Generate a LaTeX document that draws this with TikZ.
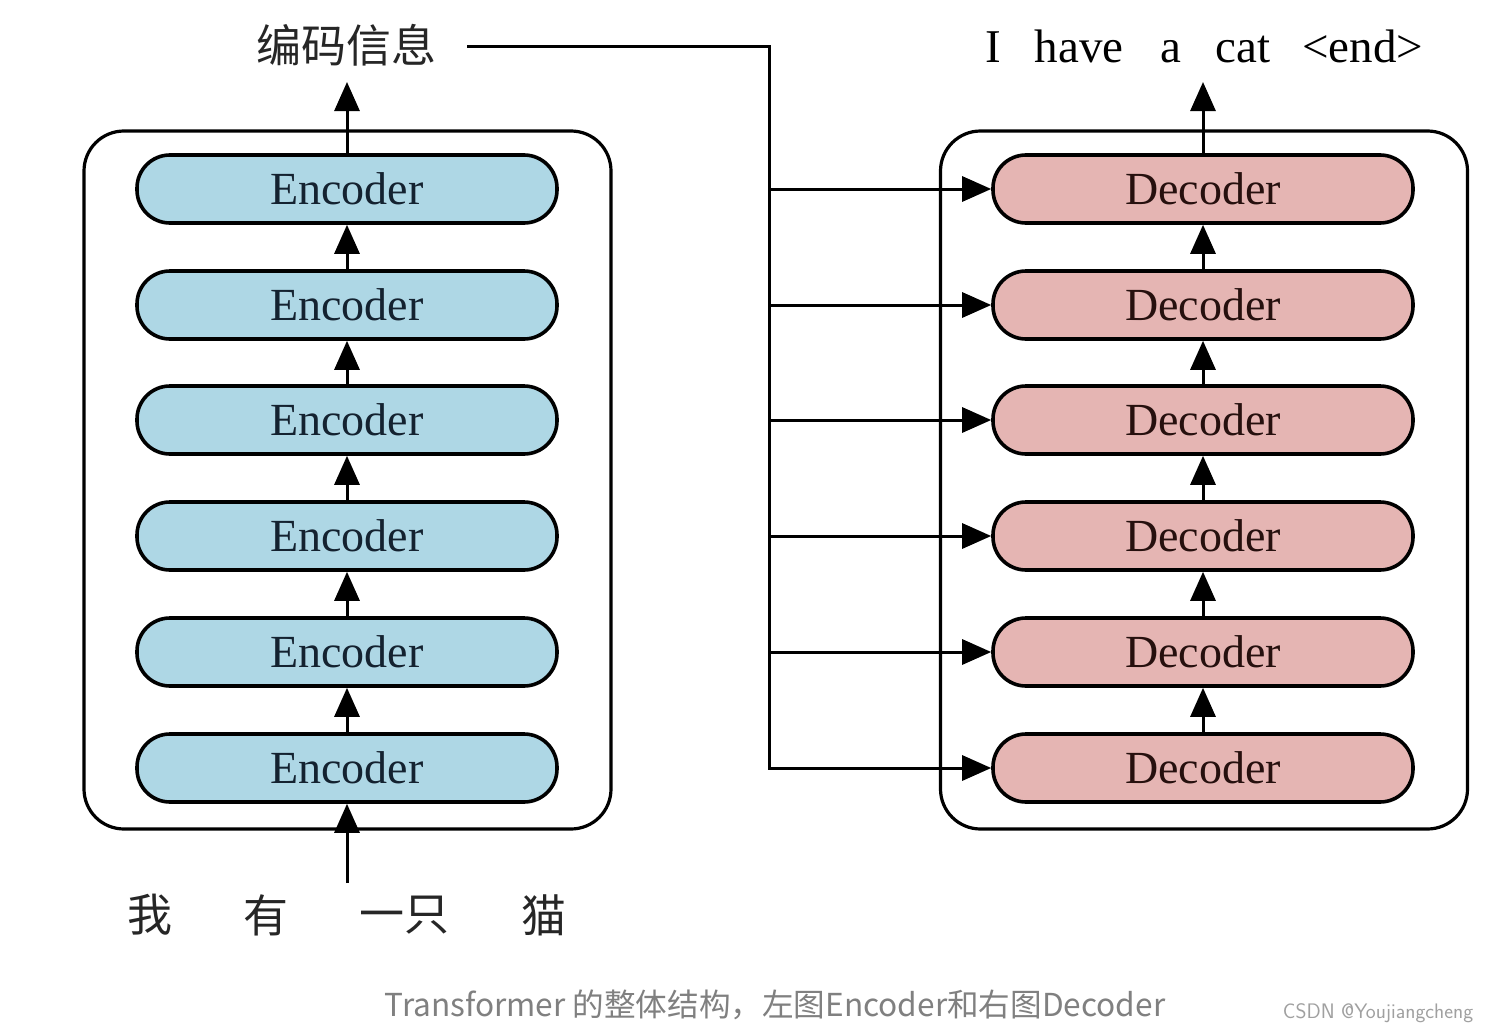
\documentclass[tikz,border=0pt]{standalone}
\usepackage{fontspec}
\setmainfont{Liberation Serif}
\newfontfamily\cjk{Noto Sans CJK SC}
\usetikzlibrary{arrows.meta}
\definecolor{encblue}{RGB}{174,215,229}
\definecolor{decred}{RGB}{229,181,179}
\definecolor{enctext}{RGB}{20,34,48}
\definecolor{dectext}{RGB}{38,16,14}
\definecolor{capgray}{RGB}{128,128,128}
\definecolor{markgray}{RGB}{160,160,160}
\tikzset{
  groupbox/.style={draw, line width=3.2pt, rounded corners=40pt, minimum width=527pt, minimum height=698pt, inner sep=0pt},
  layerbox/.style={draw, line width=3.6pt, rounded corners=33pt, minimum width=420pt, minimum height=68pt, inner sep=0pt, font=\fontsize{46}{50}\selectfont},
  encbox/.style={layerbox, fill=encblue, text=enctext},
  decbox/.style={layerbox, fill=decred, text=dectext},
  arr/.style={-{Triangle[length=29pt,width=25pt]}, line width=3pt},
  feed/.style={line width=3pt},
  cjklabel/.style={font=\cjk\fontsize{45}{48}\selectfont, text=black!85, inner sep=0pt},
  wordlabel/.style={font=\fontsize{47}{50}\selectfont, inner sep=0pt},
}
\begin{document}
\begin{tikzpicture}[x=1pt,y=-1pt]
\useasboundingbox[fill=white] (0,0) rectangle (1488,1033);
% group boxes
\node[groupbox] (encgroup) at (347.5,480) {};
\node[groupbox] (decgroup) at (1204,480) {};
% encoder and decoder layers
\foreach \i/\y in {1/189,2/305,3/420,4/536,5/652,6/768}{
  \node[encbox] (e\i) at (347,\y) {Encoder};
  \node[decbox] (d\i) at (1203,\y) {Decoder};
}
% labels
\node[cjklabel] (enctxt) at (346,45) {编码信息};
\node[wordlabel, anchor=base west] (outtxt) at (985,63) {I\hspace*{34pt}have\hspace*{37pt}a\hspace*{34pt}cat\hspace*{32pt}<end>};
\node[cjklabel] (w1) at (150,915) {我};
\node[cjklabel] (w2) at (266,915) {有};
\node[cjklabel] (w3) at (404,915) {一只};
\node[cjklabel] (w4) at (544,915) {猫};
% arrows between layers
\foreach \a/\b in {2/1,3/2,4/3,5/4,6/5}{
  \draw[arr] (e\a.north) -- (e\b.south);
  \draw[arr] (d\a.north) -- (d\b.south);
}
\coordinate (encout) at (347,82);
\coordinate (decout) at (1203,82);
\coordinate (inp) at (347,883);
\draw[arr] (e1.north) -- (encout);
\draw[arr] (d1.north) -- (decout);
\draw[arr] (inp) -- (e6.south);
% feed of encoder information
\coordinate (fstart) at (467,47);
\coordinate (fcorner) at (769,47);
\draw[feed, arr] (fstart) -- (fcorner) -- (fcorner |- d6.west) -- (d6.west);
\foreach \i in {1,2,3,4,5}{
  \draw[arr] (fcorner |- d\i.west) -- (d\i.west);
}
% caption
\node[font=\cjk\fontsize{31.6}{34}\selectfont, text=capgray, inner sep=0pt] (caption) at (775,1005) {Transformer 的整体结构，左图Encoder和右图Decoder};
\node[font=\sffamily\fontsize{21}{23}\selectfont, text=markgray, inner sep=0pt] (mark) at (1378,1013) {CSDN @Youjiangcheng};
\end{tikzpicture}
\end{document}
